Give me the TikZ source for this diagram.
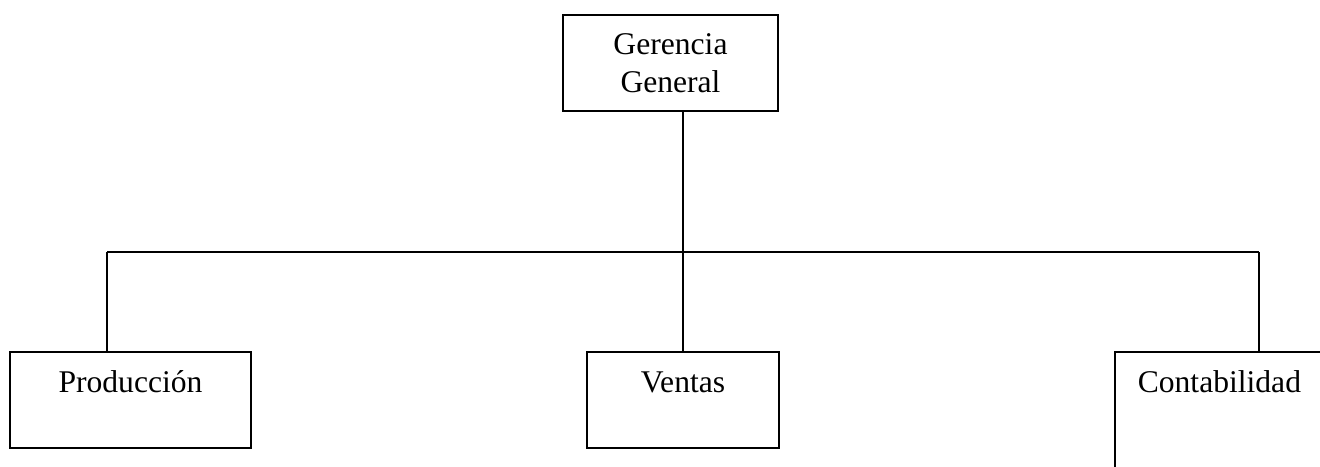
\documentclass[tikz,border=0pt]{standalone}
\usepackage{fontspec}
\setmainfont{Liberation Serif}
\begin{document}
\begin{tikzpicture}[x=0.5pt,y=-0.5pt,line width=0.9pt,
	caja/.style={draw,rectangle,inner sep=0pt,font=\fontsize{15.8}{18.75}\selectfont},
	cajaabajo/.style={caja,text height=20.5pt,text depth=27.5pt}]
		\useasboundingbox (0,0) rectangle (1320,466);
		\clip (0,0) rectangle (1320,466);
		\node[caja,minimum width=107.5pt,minimum height=48pt,align=center] (gerencia) at (670.5,63) {Gerencia\\General};
		\node[cajaabajo,minimum width=120.5pt,anchor=north] (produccion) at (130.5,351) {Producción};
		\node[cajaabajo,minimum width=96pt,anchor=north] (ventas) at (683,351) {Ventas};
		\node[cajaabajo,text depth=45pt,minimum width=104.5pt,anchor=north west] (contabilidad) at (1114,351) {Contabilidad};
		\coordinate (centro) at (683,252);
		\coordinate (izq) at (107,252);
		\coordinate (der) at (1259,252);
		\draw (gerencia.south -| centro)--(centro);
		\draw (izq)--(der);
		\draw (izq)--(izq |- produccion.north) (centro)--(ventas.north) (der)--(der |- contabilidad.north);
		\end{tikzpicture}
\end{document}
